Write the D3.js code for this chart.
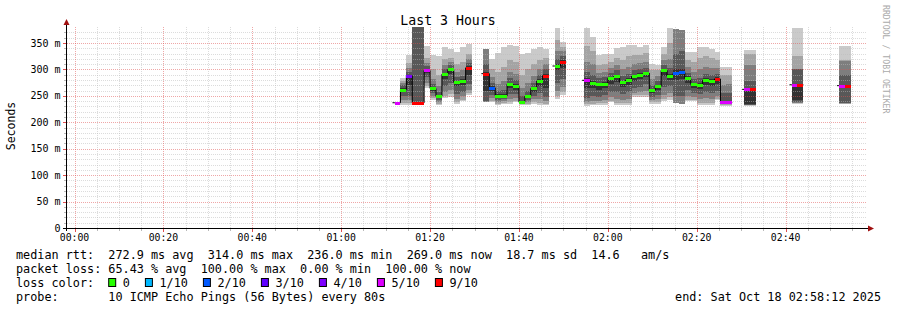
<!DOCTYPE html>
<html>
<head>
<meta charset="utf-8">
<script src="https://cdn.jsdelivr.net/npm/d3@7"></script>
<style>
body { margin: 0; background: #fff; }
text { font-family: "DejaVu Sans Mono", monospace; white-space: pre; fill: #000; }
</style>
</head>
<body>
<svg id="chart" width="897" height="310"></svg>
<script>

// 80 s steps counted from 00:00
var slots = [54,55,56,57,58,59,60,61,62,63,64,65,66,69,70,71,72,73,74,75,76,77,78,79,81,82,
    86,87,88,89,90,91,92,93,94,95,96,97,98,99,100,101,102,103,104,105,106,107,108,109,110,
    113,114,121,122,129,130];

// median rtt (ms) per step
var medians = [237,262,288,237,237,298,264,249,291,300,276,278,303,292,265,250,250,272,269,238,249,264,278,288,306.5,314,
    279.4,275,272,273,283,287,275.6,280,287,289.5,293,260.4,268.6,298,287,292.6,294.5,283,271.8,270.5,279.4,278,282,237.7,237.7,
    262.3,262.3,271,271,269.3,269.3];

// lost pings out of 10 per step
var lost = [5,0,4,9,9,5,0,0,0,0,0,0,9,9,2,0,0,0,0,0,0,0,0,9,0,9,
    5,0,0,0,0,0,0,0,0,0,0,0,0,0,0,2,2,0,0,0,0,0,9,5,5,
    5,9,5,9,5,9];

// sorted ping rtts (ms) per step, null = not received
var pings = [
    [null,null,null,232,234,237,238,null,null,null],
    [232,236,242,250,257,265,270,274,278,283],
    [232,236,242,250,270,290,296,302,312,327],
    [null,null,null,233,null,null,380,null,null,null],
    [null,null,null,233,null,null,380,null,null,null],
    [264,268,275,285,294,301,306,312,322,344],
    [243,246,250,255,260,266,272,282,300,327],
    [232,235,238,242,246,252,258,268,290,325],
    [246,250,258,268,282,294,300,308,320,342],
    [248,253,262,275,292,303,308,314,322,339],
    [235,238,244,254,268,279,286,295,310,333],
    [240,243,250,258,270,281,288,298,315,342],
    [252,256,262,272,290,306,312,320,330,349],
    [null,null,238,240,260,295,311,339,null,null],
    [238,241,246,252,260,268,275,285,300,320],
    [233,235,238,242,246,253,260,272,295,332],
    [235,237,240,244,247,253,262,278,305,343],
    [235,239,245,254,265,275,284,296,318,346],
    [238,241,246,253,262,272,280,292,315,345],
    [233,234,235,236,237,241,250,265,290,330],
    [233,235,238,242,246,252,260,275,300,332],
    [235,239,244,250,257,267,275,288,310,339],
    [232,237,244,255,268,281,290,300,318,342],
    [232,235,240,248,265,291,300,310,322,339],
    [245,250,260,275,298,310,320,335,355,378],
    [252,257,266,282,302,317,325,334,342,351],
    [231,234,238,246,265,283,295,315,345,378],
    [232,235,240,250,265,279,290,310,335,362],
    [233,236,240,248,262,275,283,293,308,328],
    [233,237,243,252,264,277,285,295,310,330],
    [238,241,247,258,273,286,293,302,315,330],
    [233,237,245,258,276,290,298,308,322,340],
    [233,237,243,254,266,279,288,300,318,343],
    [233,237,245,258,271,283,292,305,325,346],
    [248,251,256,265,278,290,298,310,328,346],
    [248,251,258,267,281,293,300,312,328,343],
    [248,252,260,272,285,296,303,315,332,346],
    [235,238,242,248,255,263,270,282,298,311],
    [235,239,244,252,262,271,278,287,298,308],
    [240,244,252,266,288,301,308,318,330,343],
    [242,247,255,268,280,291,302,320,350,378],
    [null,null,236,250,280,300,330,376,null,null],
    [null,null,235,250,282,300,335,375,null,null],
    [240,243,250,262,275,287,294,305,318,333],
    [240,243,248,255,265,275,282,295,315,333],
    [233,237,244,253,263,274,283,300,322,343],
    [233,237,246,257,270,283,292,305,325,343],
    [233,237,244,255,268,281,290,303,322,338],
    [242,245,250,259,272,285,292,303,318,333],
    [231,233,234,236,237,240,255,270,290,305],
    [231,233,234,236,237,240,256,272,290,305],
    [231,232,233,233,234,264,279,309,330,337],
    [231,232,233,233,234,264,279,309,330,337],
    [235,236,237,238,242,271,300,301,325,378],
    [235,236,237,238,242,271,300,301,325,378],
    [235,235,236,236,264,270,290,316,317,344],
    [235,235,236,236,264,270,290,316,317,344]
];

var lossLabels = ['0', '1/10', '2/10', '3/10', '4/10', '5/10', '9/10'];
var lossColors = ['#26ff00', '#00b8ff', '#0059ff', '#5e00ff', '#7e00ff', '#dd00ff', '#ff0000'];
var smokeShades = ['#cacaca', '#a4a4a4', '#7e7e7e', '#585858', '#323232'];

var rttStats = ['272.9 ms avg', '314.0 ms max', '236.0 ms min', '269.0 ms now', '18.7 ms sd', '14.6   am/s'];
var lossStats = ['65.43 % avg', '100.00 % max', '0.00 % min', '100.00 % now'];
var yTicks = [0, 50, 100, 150, 200, 250, 300, 350];
var step = 80;
var endTime = 'Sat Oct 18 02:58:12 2025';

var svg = d3.select('#chart');

var x = d3.scaleLinear().domain([-108, 10692]).range([66.5, 866.5]);
var y = d3.scaleLinear().domain([0, 378.4]).range([228, 28]);

function lossIndex(n) {
    return n <= 4 ? n : (n < 9 ? 5 : 6);
}

function hhmm(s) {
    var h = Math.floor(s / 3600), m = Math.floor(s % 3600 / 60);
    return d3.format('02d')(h) + ':' + d3.format('02d')(m);
}

var cols = slots.map((s, i) => ({slot: s, med: medians[i], lost: lost[i], p: pings[i]}));

// smoke
var smoke = svg.append('g').attr('shape-rendering', 'crispEdges');
cols.forEach(c => {
    var x0 = Math.round(x(c.slot * step)), x1 = Math.round(x((c.slot + 1) * step));
    for (var i = 0; i < 5; i++) {
        var lo = c.p[i], hi = c.p[9 - i];
        if (lo == null || hi == null) continue;
        smoke.append('rect')
            .attr('x', x0).attr('width', x1 - x0)
            .attr('y', Math.round(y(hi))).attr('height', Math.max(1, Math.round(y(lo)) - Math.round(y(hi))))
            .attr('fill', smokeShades[i]);
    }
});

// grid
var grid = svg.append('g').attr('shape-rendering', 'crispEdges').attr('stroke-dasharray', '1,1');
d3.range(10, 378, 10).forEach(v => {
    var major = v % 50 == 0;
    grid.append('line')
        .attr('x1', 67).attr('x2', 867)
        .attr('y1', Math.round(y(v)) + 0.5).attr('y2', Math.round(y(v)) + 0.5)
        .attr('stroke', major ? 'rgba(224,80,80,0.5)' : 'rgba(186,186,186,0.5)');
});
d3.range(0, 10692, 300).forEach(t => {
    var major = t % 1200 == 0;
    grid.append('line')
        .attr('x1', Math.round(x(t)) + 0.5).attr('x2', Math.round(x(t)) + 0.5)
        .attr('y1', 27).attr('y2', 228)
        .attr('stroke', major ? 'rgba(224,80,80,0.5)' : 'rgba(186,186,186,0.5)');
});

// median step lines, one per run of consecutive steps
var runs = [];
cols.forEach((c, i) => {
    if (i == 0 || c.slot != cols[i - 1].slot + 1) runs.push([]);
    runs[runs.length - 1].push(c);
});
var medLine = d3.line().curve(d3.curveStepAfter).x(d => d[0]).y(d => d[1]);
runs.forEach(r => {
    var pts = r.map(c => [x(c.slot * step), y(c.med)]);
    var last = r[r.length - 1];
    pts.push([x((last.slot + 1) * step), y(last.med)]);
    pts.unshift([x(r[0].slot * step) - 2, y(r[0].med)]);
    svg.append('path').attr('d', medLine(pts))
        .attr('fill', 'none').attr('stroke', '#000').attr('stroke-width', 1);
});

svg.append('g').attr('shape-rendering', 'crispEdges')
    .selectAll('rect').data(cols).enter()
    .append('rect')
    .attr('x', d => Math.round(x(d.slot * step)))
    .attr('width', d => Math.round(x((d.slot + 1) * step)) - Math.round(x(d.slot * step)))
    .attr('y', d => Math.round(y(d.med)) - 1)
    .attr('height', 3)
    .attr('fill', d => lossColors[lossIndex(d.lost)]);

// axes
var axes = svg.append('g').attr('shape-rendering', 'crispEdges');
axes.append('line').attr('x1', 63).attr('x2', 869).attr('y1', 228.5).attr('y2', 228.5).attr('stroke', '#000');
axes.append('line').attr('x1', 66.5).attr('x2', 66.5).attr('y1', 231).attr('y2', 24).attr('stroke', '#000');
svg.append('path').attr('d', 'M66.5,19 L63.5,25 L69.5,25 Z').attr('fill', '#a01010');
svg.append('path').attr('d', 'M874,228.5 L868,225.5 L868,231.5 Z').attr('fill', '#a01010');

d3.range(0, 10692, 300).forEach(t => {
    var major = t % 1200 == 0;
    axes.append('line')
        .attr('x1', Math.round(x(t)) + 0.5).attr('x2', Math.round(x(t)) + 0.5)
        .attr('y1', 229).attr('y2', major ? 232 : 231)
        .attr('stroke', major ? '#e05050' : '#bababa');
});
d3.range(10, 378, 10).forEach(v => {
    var major = v % 50 == 0;
    axes.append('line')
        .attr('x1', major ? 63 : 64).attr('x2', 66)
        .attr('y1', Math.round(y(v)) + 0.5).attr('y2', Math.round(y(v)) + 0.5)
        .attr('stroke', major ? '#e05050' : '#bababa');
});

svg.append('g').selectAll('text').data(d3.range(0, 10692, 1200)).enter()
    .append('text')
    .attr('x', d => x(d)).attr('y', 238).attr('dy', '0.35em')
    .attr('text-anchor', 'middle').style('font-size', '9.8px')
    .text(d => hhmm(d));

svg.append('g').selectAll('text').data(yTicks).enter()
    .append('text')
    .attr('x', 60.5).attr('y', d => y(d)).attr('dy', '0.35em')
    .attr('text-anchor', 'end').style('font-size', '10px')
    .text(d => d == 0 ? '0' : d + ' m');

// titles
svg.append('text').attr('x', 448).attr('y', 20).attr('dy', '0.35em')
    .attr('text-anchor', 'middle').style('font-size', '13.2px').text('Last 3 Hours');
svg.append('text').attr('transform', 'translate(11,126) rotate(-90)').attr('dy', '0.35em')
    .attr('text-anchor', 'middle').style('font-size', '11.5px').text('Seconds');
svg.append('text').attr('transform', 'translate(886,5) rotate(90)').attr('dy', '0.35em')
    .style('font-size', '8.2px').style('fill', '#aaaaaa').text('RRDTOOL / TOBI OETIKER');

// legend block
var legendFont = '11.8px';
svg.append('text').attr('x', 16).attr('y', 254.5).attr('dy', '0.35em').style('font-size', legendFont)
    .text('median rtt:  ' + rttStats.join('  '));
svg.append('text').attr('x', 16).attr('y', 268.5).attr('dy', '0.35em').style('font-size', legendFont)
    .text('packet loss: ' + lossStats.join('  '));
svg.append('text').attr('x', 16).attr('y', 282.5).attr('dy', '0.35em').style('font-size', legendFont)
    .text('loss color:');
svg.append('text').attr('x', 16).attr('y', 296.5).attr('dy', '0.35em').style('font-size', legendFont)
    .text('probe:       10 ICMP Echo Pings (56 Bytes) every 80s');
svg.append('text').attr('x', 881).attr('y', 296.5).attr('dy', '0.35em').style('font-size', legendFont)
    .attr('text-anchor', 'end').text('end: ' + endTime);

var lx = 108.2;
lossLabels.forEach((lab, i) => {
    svg.append('rect').attr('x', lx + 0.5).attr('y', 278.5).attr('width', 7).attr('height', 8)
        .attr('fill', lossColors[i]).attr('stroke', '#000').attr('stroke-width', 1);
    svg.append('text').attr('x', lx + 14.6).attr('y', 282.5).attr('dy', '0.35em')
        .style('font-size', legendFont).text(lab);
    lx = lx + 14.6 + lab.length * 7.1 + 15;
});

</script>
</body>
</html>
